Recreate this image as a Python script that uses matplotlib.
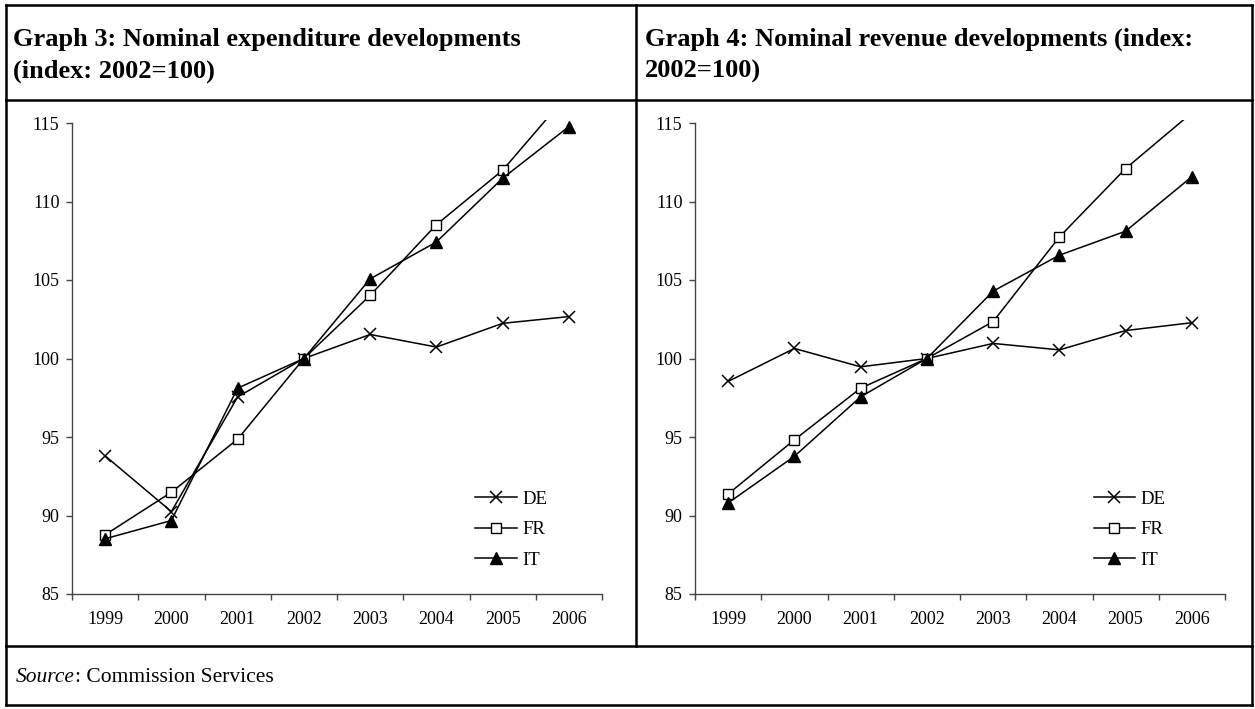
import matplotlib
matplotlib.use("Agg")
import matplotlib.pyplot as plt
from matplotlib.lines import Line2D

plt.rcParams['font.family'] = ['Liberation Serif', 'DejaVu Serif']

years = [1999, 2000, 2001, 2002, 2003, 2004, 2005, 2006]
year_labels = [str(y) for y in years]
yticks = [85, 90, 95, 100, 105, 110, 115]

exp_de = [93.8, 90.25, 97.55, 100.0, 101.53, 100.73, 102.24, 102.67]
exp_fr = [88.77, 91.48, 94.86, 100.0, 104.02, 108.52, 111.99, 116.9]
exp_it = [88.52, 89.68, 98.11, 100.0, 105.07, 107.42, 111.48, 114.77]

rev_de = [98.54, 100.64, 99.47, 100.0, 100.96, 100.55, 101.78, 102.28]
rev_fr = [91.37, 94.82, 98.11, 100.0, 102.35, 107.74, 112.1, 115.65]
rev_it = [90.8, 93.77, 97.56, 100.0, 104.29, 106.58, 108.11, 111.58]

titles = [["Graph 3: Nominal expenditure developments", "(index: 2002=100)"],
          ["Graph 4: Nominal revenue developments (index:", "2002=100)"]]
source_label = "Source"
source_text = ": Commission Services"
series_names = ["DE", "FR", "IT"]

W, H = 1255, 709
fig = plt.figure(figsize=(W / 100, H / 100), dpi=100)


def fx(px):
    return px / W


def fy(py):
    return 1 - py / H


# table frame
lw_frame = 1.8
for (x0, y0, x1, y1) in [(6, 5, 1252, 5), (6, 100, 1252, 100), (6, 646, 1252, 646),
                         (6, 705, 1252, 705), (6, 5, 6, 705), (1252, 5, 1252, 705),
                         (636, 5, 636, 646)]:
    fig.add_artist(Line2D([fx(x0), fx(x1)], [fy(y0), fy(y1)], color='black',
                          lw=lw_frame, solid_capstyle='projecting'))

# titles
for (tx, lines) in zip([13, 645], titles):
    fig.text(fx(tx), fy(46), lines[0], fontsize=19, fontweight='bold', va='baseline', ha='left')
    fig.text(fx(tx), fy(78), lines[1], fontsize=19, fontweight='bold', va='baseline', ha='left')

ytop_val = 115.2
px_per_unit = (594 - 123) / 30.0
top_px = 594 - (ytop_val - 85) * px_per_unit

axis_col = '#444444'
tick_fs = 13


def make_axes(left_px, de, fr, it, legend_x):
    ax = fig.add_axes([fx(left_px), fy(594), 530 / W, (594 - top_px) / H])
    kw = dict(color='black', lw=1.1)
    ax.plot(years, de, marker='x', ms=8, mew=1.1, label=series_names[0], **kw)
    ax.plot(years, fr, marker='s', ms=6.5, mfc='white', mec='black', mew=1.0,
            label=series_names[1], **kw)
    ax.plot(years, it, marker='^', ms=8, mfc='black', mec='black',
            label=series_names[2], **kw)
    ax.set_xlim(1998.5, 2006.5)
    ax.set_ylim(85, ytop_val)
    ax.set_yticks(yticks)
    ax.set_yticklabels([str(v) for v in yticks], fontsize=tick_fs)
    ax.set_xticks([y - 0.5 for y in years] + [years[-1] + 0.5])
    ax.set_xticklabels([])
    ax.set_xticks(years, minor=True)
    ax.set_xticklabels(year_labels, minor=True, fontsize=tick_fs)
    ax.tick_params(axis='x', which='major', direction='out', length=4, width=1, color=axis_col)
    ax.tick_params(axis='x', which='minor', length=0, pad=12)
    ax.tick_params(axis='y', direction='out', length=4, width=1, color=axis_col, pad=5)
    for s in ['top', 'right']:
        ax.spines[s].set_visible(False)
    ax.spines['left'].set_bounds(85, 115)
    for s in ['left', 'bottom']:
        ax.spines[s].set_color(axis_col)
        ax.spines[s].set_linewidth(1)
    ax.patch.set_alpha(0)
    ax.legend(loc='center left', bbox_to_anchor=(legend_x, 89.1), bbox_transform=ax.transData,
              frameon=False, fontsize=tick_fs + 0.5, handlelength=2.2, handletextpad=0.3,
              borderpad=0, borderaxespad=0, labelspacing=0.72, numpoints=1)
    return ax


make_axes(72, exp_de, exp_fr, exp_it, 2004.59)
make_axes(695, rev_de, rev_fr, rev_it, 2004.52)

# source line
src_fs = 15.5
t1 = fig.text(fx(16), fy(677), source_label, fontsize=src_fs, style='italic', va='center', ha='left')
fig.canvas.draw()
bb = t1.get_window_extent()
fig.text(bb.x1 / W, fy(677), source_text, fontsize=src_fs, va='center', ha='left')

fig.savefig("out.png", dpi=100)
